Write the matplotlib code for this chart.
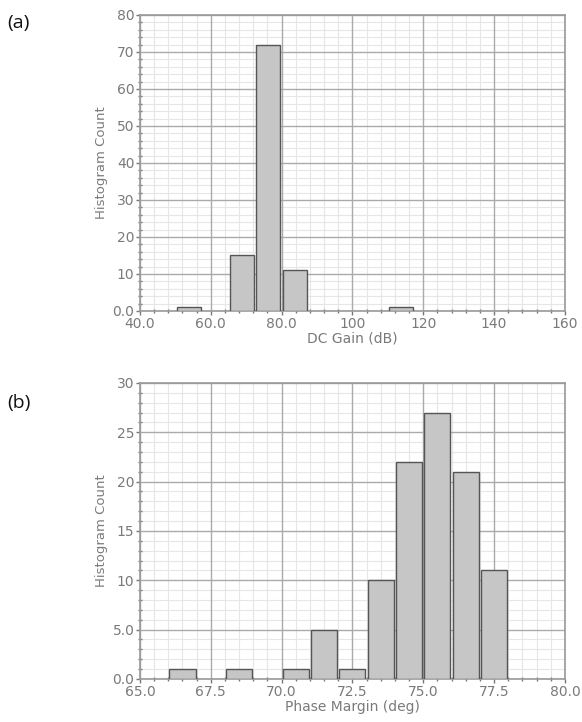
import matplotlib
matplotlib.use("Agg")
import matplotlib.pyplot as plt
from matplotlib.ticker import MultipleLocator

# ---- data ----
dc_gain_centers = [53.9, 68.7, 76.25, 83.7, 113.6]
dc_gain_counts = [1, 15, 72, 11, 1]
dc_gain_width = 6.8

pm_centers = [66.5, 68.5, 70.5, 71.5, 72.5, 73.5, 74.5, 75.5, 76.5, 77.5]
pm_counts = [1, 1, 1, 5, 1, 10, 22, 27, 21, 11]
pm_width = 0.92

a_xticks = [40, 60, 80, 100, 120, 140, 160]
a_xlabels = ["40.0", "60.0", "80.0", "100", "120", "140", "160"]
a_yticks = [0, 10, 20, 30, 40, 50, 60, 70, 80]
a_ylabels = ["0.0", "10", "20", "30", "40", "50", "60", "70", "80"]

b_xticks = [65, 67.5, 70, 72.5, 75, 77.5, 80]
b_xlabels = ["65.0", "67.5", "70.0", "72.5", "75.0", "77.5", "80.0"]
b_yticks = [0, 5, 10, 15, 20, 25, 30]
b_ylabels = ["0.0", "5.0", "10", "15", "20", "25", "30"]

TXT = "#7a7a7a"
fig = plt.figure(figsize=(5.82, 7.22), dpi=100)

def style(ax, xt, xl, yt, yl, xmin, ymin, xlim, ylim, xlabel):
    ax.set_xlim(*xlim)
    ax.set_ylim(*ylim)
    ax.set_xticks(xt)
    ax.set_xticklabels(xl)
    ax.set_yticks(yt)
    ax.set_yticklabels(yl)
    ax.xaxis.set_minor_locator(MultipleLocator(xmin))
    ax.yaxis.set_minor_locator(MultipleLocator(ymin))
    ax.grid(True, which="minor", color="#e6e6e6", lw=0.8)
    ax.grid(False, which="major")
    for v in xt:
        ax.axvline(v, color="#aaaaaa", lw=1.0, zorder=1)
    for v in yt:
        ax.axhline(v, color="#aaaaaa", lw=1.0, zorder=1)
    ax.set_axisbelow(True)
    for s in ax.spines.values():
        s.set_color("#999999")
        s.set_linewidth(1.2)
    ax.tick_params(which="major", direction="out", length=3, width=1,
                   color="#777777", labelcolor=TXT, labelsize=10, pad=1)
    ax.tick_params(which="minor", direction="inout", length=3, width=1,
                   color="#777777")
    ax.set_ylabel("Histogram Count", color=TXT, fontsize=9.5, labelpad=3)
    ax.set_xlabel(xlabel, color=TXT, fontsize=10, labelpad=1)

ax1 = fig.add_axes([0.2405, 0.5693, 0.7302, 0.4100])
ax1.bar(dc_gain_centers, dc_gain_counts, width=dc_gain_width,
        color="#c6c6c6", edgecolor="#555555", linewidth=1.0, zorder=3)
style(ax1, a_xticks, a_xlabels, a_yticks, a_ylabels, 4, 2,
      (40, 160), (0, 80), "DC Gain (dB)")

ax2 = fig.add_axes([0.2405, 0.0596, 0.7302, 0.4100])
ax2.bar(pm_centers, pm_counts, width=pm_width,
        color="#c6c6c6", edgecolor="#555555", linewidth=1.0, zorder=3)
style(ax2, b_xticks, b_xlabels, b_yticks, b_ylabels, 0.5, 1,
      (65, 80), (0, 30), "Phase Margin (deg)")

fig.text(0.012, 0.968, "(a)", fontsize=14, family="Open Sans", color="#111111",
         va="center", ha="left")
fig.text(0.012, 0.442, "(b)", fontsize=14, family="Open Sans", color="#111111",
         va="center", ha="left")

fig.savefig("out.png", dpi=100)
